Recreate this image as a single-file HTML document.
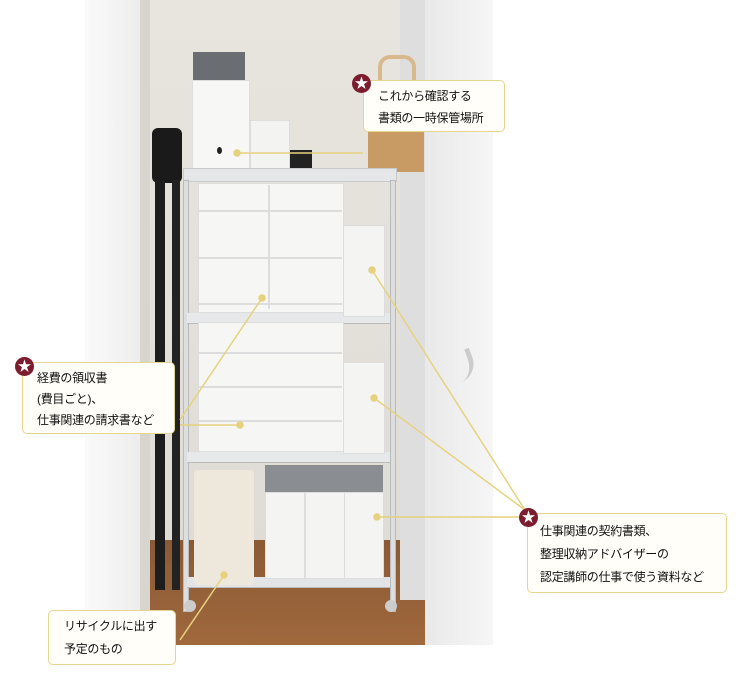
<!DOCTYPE html>
<html><head><meta charset="utf-8"><style>
body{margin:0;width:750px;height:700px;background:#fff;position:relative;overflow:hidden;font-family:"Liberation Sans","Noto Sans CJK JP",sans-serif}
.a{position:absolute}
.lab{position:absolute;background:#fffef8;border:1.5px solid #e6d58e;border-radius:5px;font-size:12px;line-height:27px;color:#111;box-sizing:border-box;white-space:nowrap;letter-spacing:-0.3px}
.star{position:absolute;width:19px;height:19px;border-radius:50%;background:#7b1d2e;color:#fff;font-size:14px;line-height:19px;text-align:center}
</style></head><body>
<div class="a" style="left:85px;top:0;width:60px;height:645px;background:linear-gradient(90deg,#fafafa,#ececec)"></div>
<div class="a" style="left:140px;top:0;width:285px;height:645px;background:linear-gradient(180deg,#e8e5df,#e2ded8 60%,#ddd9d3)"></div>
<div class="a" style="left:140px;top:0;width:10px;height:645px;background:#d8d4ce"></div>
<div class="a" style="left:150px;top:540px;width:275px;height:105px;background:linear-gradient(180deg,#8a5a35,#a0683d)"></div>
<div class="a" style="left:400px;top:0;width:25px;height:600px;background:#dedede"></div>
<div class="a" style="left:425px;top:0;width:68px;height:645px;background:linear-gradient(90deg,#e9e9e9,#f6f6f6)"></div>
<div class="a" style="left:444px;top:352px;width:26px;height:30px;border-right:5px solid #ccc;border-radius:0 0 20px 0;transform:rotate(-20deg)"></div>
<div class="a" style="left:152px;top:128px;width:30px;height:55px;background:#1a1a1a;border-radius:6px"></div>
<div class="a" style="left:155px;top:180px;width:10px;height:410px;background:#1d1d1d"></div>
<div class="a" style="left:172px;top:180px;width:8px;height:410px;background:#222"></div>
<div class="a" style="left:368px;top:100px;width:56px;height:72px;background:#c89a64"></div>
<div class="a" style="left:378px;top:55px;width:30px;height:55px;border:4px solid #d8b98e;border-bottom:none;border-radius:12px 12px 0 0"></div>
<div class="a" style="left:193px;top:52px;width:52px;height:60px;background:#6a6e72"></div>
<div class="a" style="left:192px;top:80px;width:56px;height:90px;background:#f7f7f5;border:1px solid #ddd"></div>
<div class="a" style="left:217px;top:147px;width:5px;height:7px;background:#222;border-radius:50%"></div>
<div class="a" style="left:250px;top:120px;width:38px;height:50px;background:#f3f3f1;border:1px solid #ddd"></div>
<div class="a" style="left:290px;top:150px;width:22px;height:18px;background:#222"></div>
<div class="a" style="left:183px;top:168px;width:212px;height:12px;background:#e4e6e8;border:1px solid #c8cacc"></div>
<div class="a" style="left:183px;top:180px;width:4px;height:430px;background:#dcdee0;border:1px solid #b8babc"></div>
<div class="a" style="left:390px;top:180px;width:4px;height:430px;background:#dcdee0;border:1px solid #b8babc"></div>
<div class="a" style="left:187px;top:313px;width:203px;height:10px;background:#e6e8ea;border-bottom:1px solid #bbb"></div>
<div class="a" style="left:187px;top:452px;width:203px;height:10px;background:#e6e8ea;border-bottom:1px solid #bbb"></div>
<div class="a" style="left:187px;top:577px;width:203px;height:10px;background:#e2e4e6;border-bottom:1px solid #bbb"></div>
<div class="a" style="left:198px;top:183px;width:144px;height:128px;background:#f6f6f4;border:1px solid #ddd"></div>
<div class="a" style="left:198px;top:322px;width:144px;height:128px;background:#f6f6f4;border:1px solid #ddd"></div>
<div class="a" style="left:198px;top:210px;width:144px;height:2px;background:#ddd;box-shadow:0 47px 0 #ddd,0 93px 0 #ddd"></div>
<div class="a" style="left:268px;top:185px;width:2px;height:124px;background:#ddd"></div>
<div class="a" style="left:198px;top:352px;width:144px;height:2px;background:#ddd;box-shadow:0 34px 0 #ddd,0 68px 0 #ddd"></div>
<div class="a" style="left:343px;top:225px;width:40px;height:90px;background:#f4f4f2;border:1px solid #ddd"></div>
<div class="a" style="left:343px;top:362px;width:40px;height:90px;background:#f4f4f2;border:1px solid #ddd"></div>
<div class="a" style="left:265px;top:465px;width:118px;height:40px;background:#8a8e92"></div>
<div class="a" style="left:265px;top:492px;width:38px;height:85px;background:#f4f4f2;border:1px solid #ddd"></div>
<div class="a" style="left:305px;top:492px;width:38px;height:85px;background:#f4f4f2;border:1px solid #ddd"></div>
<div class="a" style="left:344px;top:492px;width:38px;height:85px;background:#f4f4f2;border:1px solid #ddd"></div>
<div class="a" style="left:194px;top:470px;width:60px;height:115px;background:#eee8dc;border-radius:4px"></div>
<div class="a" style="left:184px;top:600px;width:12px;height:12px;border-radius:50%;background:#ccc"></div>
<div class="a" style="left:385px;top:600px;width:12px;height:12px;border-radius:50%;background:#ccc"></div>
<svg class="a" style="left:0;top:0" width="750" height="700"><g stroke="#e6d27e" stroke-width="1.5" fill="#e6d27e">
<line x1="237" y1="153" x2="363" y2="153"/><circle cx="237" cy="153" r="3"/>
<line x1="262" y1="298" x2="180" y2="420"/><circle cx="262" cy="298" r="3"/>
<line x1="240" y1="425" x2="180" y2="425"/><circle cx="240" cy="425" r="3"/>
<line x1="372" y1="270" x2="525" y2="510"/><circle cx="372" cy="270" r="3"/>
<line x1="374" y1="398" x2="525" y2="510"/><circle cx="374" cy="398" r="3"/>
<line x1="377" y1="517" x2="527" y2="517"/><circle cx="377" cy="517" r="3"/>
<line x1="224" y1="575" x2="180" y2="640"/><circle cx="224" cy="575" r="3"/>
</g></svg>
<div class="lab" style="left:363px;top:80px;width:142px;height:52px;padding:4px 0 0 14px;line-height:22px">これから確認する<br>書類の一時保管場所</div>
<div class="lab" style="left:22px;top:362px;width:153px;height:72px;padding:5px 0 0 14px;line-height:21px">経費の領収書<br>(費目ごと)、<br>仕事関連の請求書など</div>
<div class="lab" style="left:527px;top:513px;width:200px;height:80px;padding:6px 0 0 12px;line-height:23px">仕事関連の契約書類、<br>整理収納アドバイザーの<br>認定講師の仕事で使う資料など</div>
<div class="lab" style="left:48px;top:610px;width:128px;height:55px;padding:4px 0 0 15px;line-height:23px">リサイクルに出す<br>予定のもの</div>
<div class="star" style="left:352px;top:74px">★</div>
<div class="star" style="left:15px;top:357px">★</div>
<div class="star" style="left:519px;top:508px">★</div>
</body></html>
